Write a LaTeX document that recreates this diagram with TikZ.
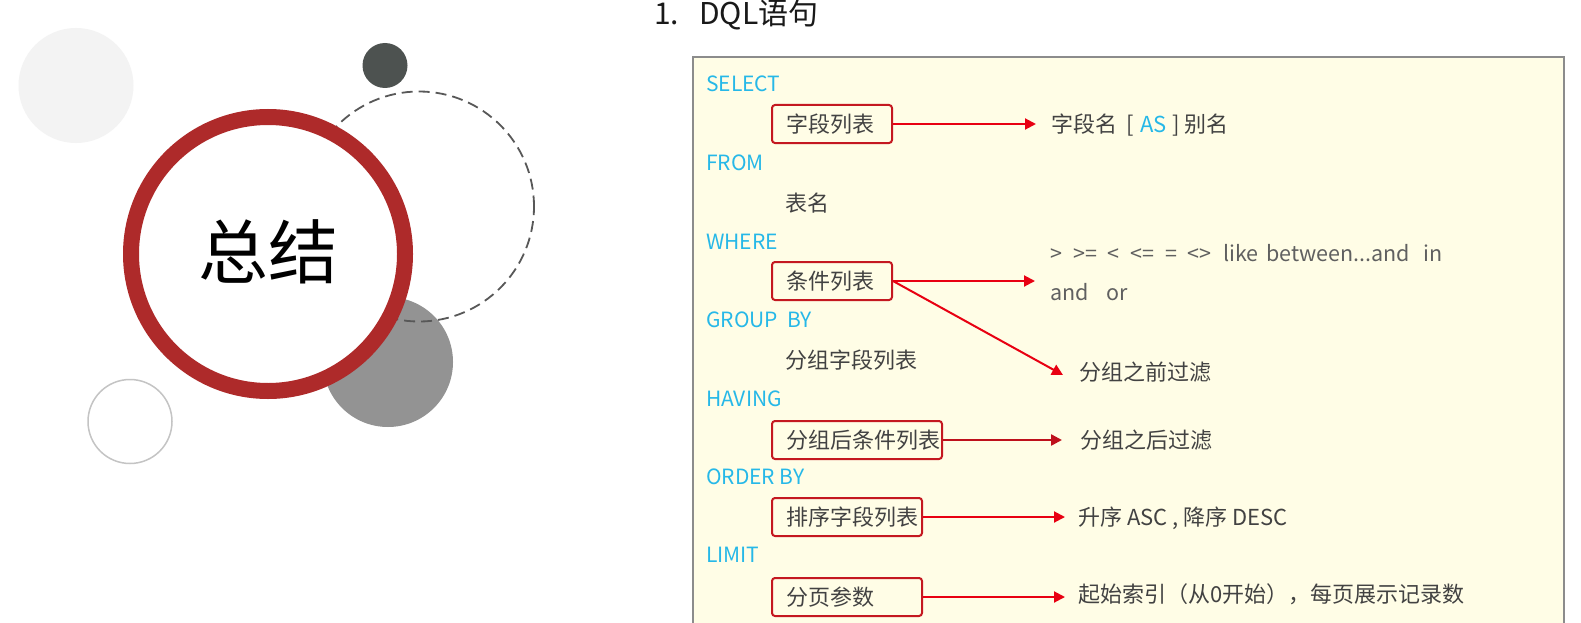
\documentclass[tikz,border=0pt]{standalone}
\usepackage{fontspec}
\setmainfont{Noto Sans CJK SC}
\usetikzlibrary{arrows.meta}
\definecolor{kw}{RGB}{38,184,232}
\definecolor{txtc}{RGB}{66,66,66}
\definecolor{optc}{RGB}{96,96,96}
\definecolor{boxred}{RGB}{196,24,32}
\definecolor{arrred}{RGB}{232,0,18}
\definecolor{panel}{RGB}{255,253,230}
\definecolor{panelline}{RGB}{140,140,140}
\definecolor{ringred}{RGB}{174,42,42}
\definecolor{lightc}{RGB}{243,243,243}
\definecolor{darkc}{RGB}{77,82,80}
\definecolor{midc}{RGB}{147,147,147}
\definecolor{thinc}{RGB}{196,196,196}
\definecolor{dashc}{RGB}{88,88,88}
\newcommand\bxlabel[2]{\makebox[#1pt][l]{\hspace{14pt}#2}}
\newcommand\tk[2]{\makebox[#1pt][l]{#2}}
\tikzset{
  kwd/.style={anchor=west, inner sep=0pt, text=kw, font=\fontsize{21}{24}\selectfont},
  itm/.style={anchor=west, inner sep=0pt, text=txtc, font=\fontsize{22}{26}\selectfont},
  opt/.style={anchor=west, inner sep=0pt, text=optc, font=\fontsize{21.5}{24}\selectfont},
  rbox/.style={draw=boxred, line width=2pt, rounded corners=3pt, anchor=west,
    minimum height=38pt, inner xsep=0pt, inner ysep=0pt, text=txtc,
    font=\fontsize{22}{26}\selectfont},
  arr/.style={draw=arrred, line width=2pt, -{Triangle[length=11pt,width=11pt]}, shorten >=15pt},
}
\begin{document}
\begin{tikzpicture}[x=1pt,y=-1pt]
\useasboundingbox (0,0) rectangle (1581,623);
\clip (0,0) rectangle (1581,623);
\fill[white] (0,0) rectangle (1581,623);

% left decoration
\fill[lightc] (76,85.5) circle[radius=57.5pt];
\fill[darkc] (385,65.5) circle[radius=22.5pt];
\fill[midc] (388,362) circle[radius=65pt];
\draw[dashc, line width=1.8pt, dash pattern=on 11pt off 6pt] (419,206.5) circle[radius=115pt];
\draw[thinc, line width=1.5pt] (130,421.5) circle[radius=42pt];
\draw[ringred, fill=white, line width=16pt] (268,254) circle[radius=137pt];
\node[inner sep=0pt, font=\fontsize{70}{80}\selectfont, text=black] (sum) at (268,252) {总结};

% title
\node[anchor=west, inner sep=0pt, font=\fontsize{30}{34}\selectfont, text=black!90] (title) at (654,15) {1.\hspace{20pt}DQL语句};

% panel
\draw[panelline, fill=panel, line width=1.3pt] (693,57) rectangle (1564,650);

% keywords
\node[kwd] (k1) at (706,84) {SELECT};
\node[kwd] (k2) at (706,163) {FROM};
\node[kwd] (k3) at (706,242) {WHERE};
\node[kwd] (k4) at (706,320) {GROUP\ \ BY};
\node[kwd] (k5) at (706,399) {HAVING};
\node[kwd] (k6) at (706,477) {ORDER BY};
\node[kwd] (k7) at (706,555) {LIMIT};

% items
\node[rbox] (b1) at (771,124) {\bxlabel{120}{字段列表}};
\node[itm] (i2) at (785,203) {表名};
\node[rbox] (b2) at (771,281) {\bxlabel{120}{条件列表}};
\node[itm] (i4) at (785,360) {分组字段列表};
\node[rbox] (b3) at (771,440) {\bxlabel{170}{分组后条件列表}};
\node[rbox] (b4) at (771,517) {\bxlabel{150}{排序字段列表}};
\node[rbox] (b5) at (771,597) {\bxlabel{150}{分页参数}};

% targets
\node[itm] (t1) at (1051,125) {\tk{75}{字段名}\tk{14}{[}\tk{32}{\color{kw}AS}\tk{12}{]}别名};
\node[opt] (t2a) at (1050,253) {\tk{23}{>}\tk{34}{>=}\tk{23}{<}\tk{35}{<=}\tk{22}{=}\tk{36}{<>}\tk{43}{like}\tk{157}{between...and}in};
\node[opt] (t2b) at (1050,292) {\tk{56}{and}or};
\node[itm] (t3) at (1079,372) {分组之前过滤};
\node[itm] (t4) at (1080,440) {分组之后过滤};
\node[itm] (t5) at (1078,518) {升序 ASC , 降序 DESC};
\node[itm] (t6) at (1078,594) {起始索引（从0开始），每页展示记录数};

% connectors
\draw[arr] (b1.east) -- (b1.east -| t1.west);
\draw[arr] (b2.east) -- (b2.east -| t2a.west);
\draw[arr, shorten >=0pt] (b2.east) -- ([shift={(-16,3)}]t3.west);
\draw[arr, draw={rgb,255:red,190;green,16;blue,28}, line width=2.4pt, shorten >=18pt] (b3.east) -- (b3.east -| t4.west);
\draw[arr, shorten >=13pt] (b4.east) -- (b4.east -| t5.west);
\draw[arr, shorten >=13pt] (b5.east) -- (b5.east -| t6.west);
\end{tikzpicture}
\end{document}
